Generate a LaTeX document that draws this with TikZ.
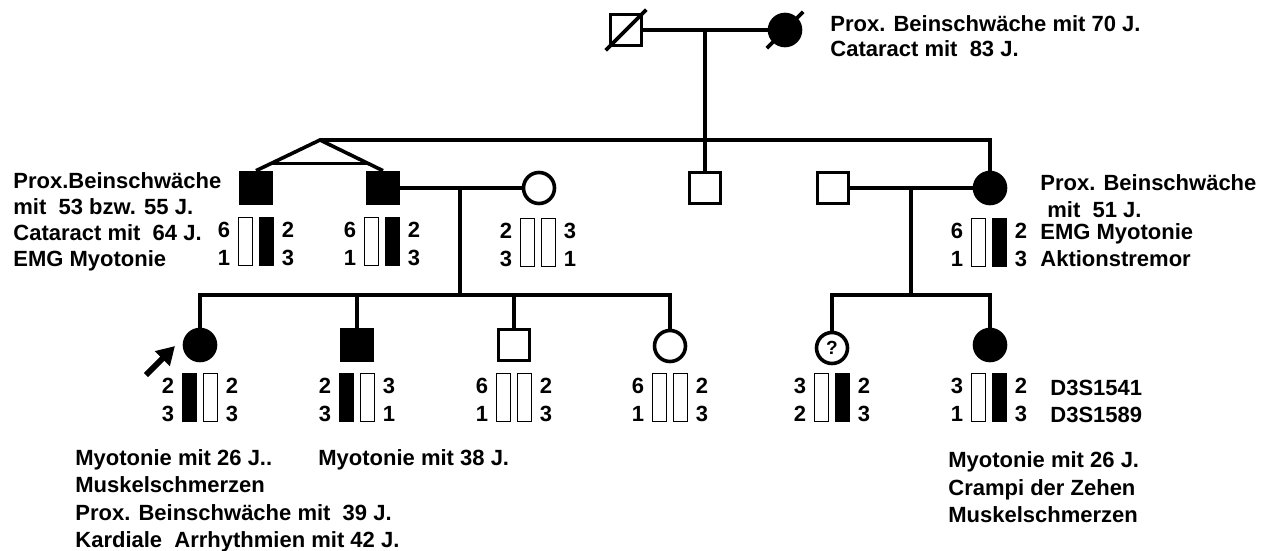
\documentclass[tikz,border=0pt]{standalone}
\usepackage{fontspec}
\setmainfont{Liberation Sans}
\usetikzlibrary{arrows.meta,calc}
\tikzset{
  conn/.style={line width=1.8pt},
  male/.style={draw, rectangle, minimum size=15.5pt, inner sep=0pt, line width=1.8pt},
  female/.style={draw, circle, minimum size=15.5pt, inner sep=0pt, line width=1.8pt},
  aff/.style={fill=black},
  txt/.style={inner sep=0pt, anchor=base west, font=\fontsize{11}{13}\selectfont\bfseries},
  num/.style={inner sep=0pt, anchor=base, font=\fontsize{11}{13}\selectfont\bfseries},
  bar/.style={draw, line width=0.6pt, minimum width=7pt, minimum height=24pt, inner sep=0pt},
  proband/.style={line width=3pt, -{Triangle[length=9pt,width=10pt]}},
}
\newcommand\hap[9]{%
  \node[bar, fill=#4] (#1L) at ({#2-10.25},{#3+24.5}) {};
  \node[bar, fill=#5] (#1R) at ({#2+10.25},{#3+24.5}) {};
  \node[num] (#1a) at ({#2-32},{#3+20}) {#6};
  \node[num] (#1b) at ({#2-32},{#3+48}) {#7};
  \node[num] (#1c) at ({#2+32},{#3+20}) {#8};
  \node[num] (#1d) at ({#2+32},{#3+48}) {#9};
}
\begin{document}
\begin{tikzpicture}[x=0.5pt,y=-0.5pt]
\useasboundingbox (0,0) rectangle (1268,551);
% ---------- Generation I
\node[male] (I1) at (626,30) {};
\node[female, aff] (I2) at (785,30) {};
\draw[conn] (I1) -- (I2);
\draw[conn] ([shift={(-3,3)}]I1.south west) -- ([shift={(3,-3)}]I1.north east);
\draw[conn] ([shift={(-6,6)}]I2.225) -- ([shift={(6,-6)}]I2.45);
\coordinate (I12) at (705,30);
\node[txt] (t1a) at (830,32) {Prox. Beinschwäche mit 70 J.};
\node[txt] (t1b) at (830,57) {Cataract mit\ \ 83 J.};
% ---------- Generation II
\coordinate (apex) at (320,140);
\node[male, aff] (II1) at (256,188) {};
\node[male, aff] (II2) at (383,188) {};
\node[female] (II4) at (539,188) {};
\node[male] (II3) at (705,188) {};
\node[male] (II6) at (833,188) {};
\node[female, aff] (II5) at (990,188) {};
\draw[conn] (apex) -| (II5);
\draw[conn] (I12) -- (II3);
\draw[conn] (II1.north) -- (apex) -- (II2.north);
\draw[conn] ($(apex)!0.77!(II1.north)$) -- ($(apex)!0.77!(II2.north)$);
\draw[conn] (II2) -- (II4);
\draw[conn] (II6) -- (II5);
\coordinate (m2) at (460,188);
\coordinate (sibL) at (460,295);
\coordinate (m3) at (911,188);
\coordinate (sibR) at (911,295);
\draw[conn] (m2) -- (sibL);
\draw[conn] (m3) -- (sibR);
\hap{h21}{256}{217}{white}{black}{6}{1}{2}{3}
\hap{h22}{382}{217}{white}{black}{6}{1}{2}{3}
\hap{h24}{538}{218}{white}{white}{2}{3}{3}{1}
\hap{h25}{989}{218}{white}{black}{6}{1}{2}{3}
\node[txt] (t2a) at (13,188) {Prox.Beinschwäche};
\node[txt] (t2b) at (13,214) {mit\ \ 53 bzw. 55 J.};
\node[txt] (t2c) at (13,240) {Cataract mit\ \ 64 J.};
\node[txt] (t2d) at (13,266) {EMG Myotonie};
\node[txt] (t3a) at (1040,191) {Prox. Beinschwäche};
\node[txt] (t3b) at (1047,217) {mit\ \ 51 J.};
\node[txt] (t3c) at (1040,239) {EMG Myotonie};
\node[txt] (t3d) at (1040,266) {Aktionstremor};
% ---------- Generation III
\node[female, aff] (III1) at (200,345) {};
\node[male, aff] (III2) at (357,345) {};
\node[male] (III3) at (514,345) {};
\node[female] (III4) at (670,346) {};
\node[female, font=\fontsize{9.5}{10}\selectfont\bfseries] (III5) at (832,348) {?};
\node[female, aff] (III6) at (990,345) {};
\draw[conn] (III1) |- (sibL) -| (III4);
\draw[conn] (III2) -- (III2 |- sibL);
\draw[conn] (III3) -- (III3 |- sibL);
\draw[conn] (III5) |- (sibR) -| (III6);
\coordinate (pa) at (146,375);
\coordinate (pb) at (175,346);
\draw[proband] (pa) -- (pb);
\hap{h31}{200}{373}{black}{white}{2}{3}{2}{3}
\hap{h32}{357}{373}{black}{white}{2}{3}{3}{1}
\hap{h33}{514}{373}{white}{white}{6}{1}{2}{3}
\hap{h34}{670}{373}{white}{white}{6}{1}{2}{3}
\hap{h35}{832}{373}{white}{black}{3}{2}{2}{3}
\hap{h36}{989}{373}{white}{black}{3}{1}{2}{3}
\node[txt] (m1) at (1050,395) {D3S1541};
\node[txt] (m2t) at (1050,422) {D3S1589};
\node[txt] (t4a) at (75,465) {Myotonie mit 26 J..};
\node[txt] (t4b) at (75,492) {Muskelschmerzen};
\node[txt] (t4c) at (75,520) {Prox. Beinschwäche mit\ \ 39 J.};
\node[txt] (t4d) at (75,547) {Kardiale\ \ Arrhythmien mit 42 J.};
\node[txt] (t5a) at (318,465) {Myotonie mit 38 J.};
\node[txt] (t6a) at (948,467) {Myotonie mit 26 J.};
\node[txt] (t6b) at (948,495) {Crampi der Zehen};
\node[txt] (t6c) at (948,522) {Muskelschmerzen};
\end{tikzpicture}
\end{document}
